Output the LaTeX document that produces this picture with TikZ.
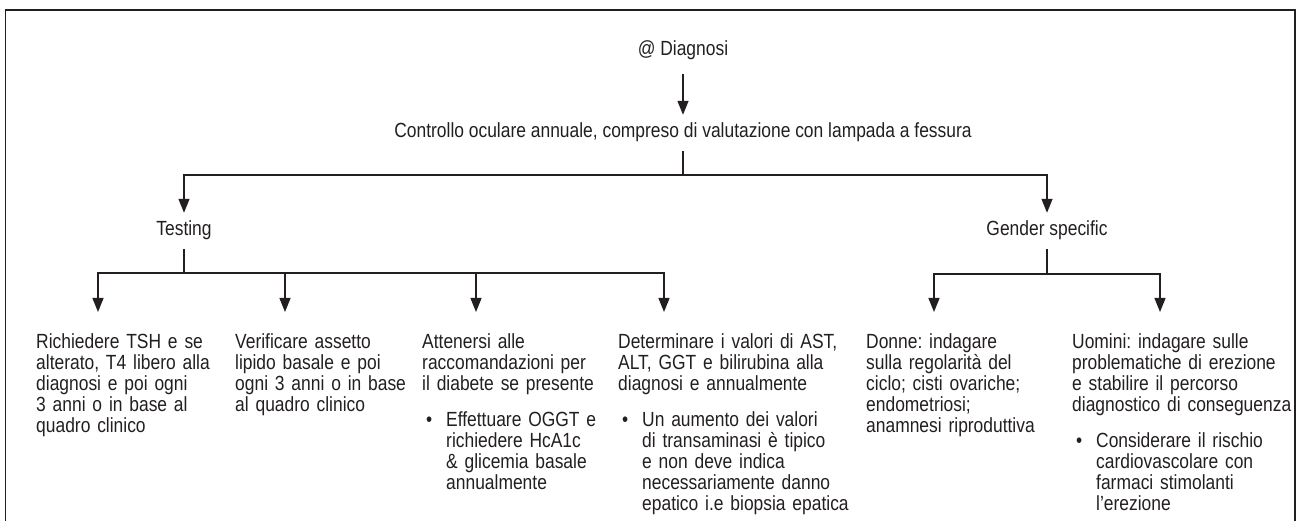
\documentclass[tikz,border=0pt]{standalone}
\usepackage{fontspec}
\setmainfont{Liberation Sans}[FakeStretch=0.85]
\usepackage{xcolor}
\usetikzlibrary{arrows.meta}

\definecolor{ink}{RGB}{35,31,32}

\tikzset{
  conn/.style={draw=ink, line width=1.3pt},
  arr/.style={conn, -{Triangle[width=11pt,length=14pt]}},
  head/.style={text=ink, font=\fontsize{20.5}{21}\selectfont, inner xsep=0pt, inner ysep=9pt, text height=14pt, text depth=4pt},
  leaf/.style={text=ink, font=\fontsize{20.5}{21}\selectfont, anchor=north west, inner sep=0pt, text width=232pt, align=left}
}

\newcommand{\bulletitem}[1]{\par\vspace{15pt}\noindent\makebox[24pt][l]{\hspace{4pt}\textbullet}\parbox[t]{215pt}{\raggedright #1}}

\frenchspacing

\begin{document}
\begin{tikzpicture}[x=1pt,y=-1pt]

\useasboundingbox (0,0) rectangle (1301,521) ;

%frame
\draw [conn] (5.5,521) -- (5.5,10) -- (1295,10) -- (1295,521) ;

%top nodes
\node [head] (diag) at (683,51) {@ Diagnosi} ;
\node [head] (ctrl) at (683,133) {Controllo oculare annuale, compreso di valutazione con lampada a fessura} ;
\draw [arr, shorten <=5pt] (diag) -- (ctrl) ;

%first split
\node [head] (test) at (184,231) {Testing} ;
\node [head] (gender) at (1047,231) {Gender specific} ;
\coordinate (csplit) at (683,175) ;
\draw [conn] (ctrl) -- (csplit) ;
\draw [arr] (csplit) -| (test) ;
\draw [arr] (csplit) -| (gender) ;

%testing leaves
\node [leaf] (tsh) at (36,333) {Richiedere TSH e se\\alterato, T4 libero alla\\diagnosi e poi ogni\\3 anni o in base al\\quadro clinico} ;
\node [leaf] (lipid) at (235,333) {Verificare assetto\\lipido basale e poi\\ogni 3 anni o in base\\al quadro clinico} ;
\node [leaf] (diab) at (422,333) {Attenersi alle\\raccomandazioni per\\il diabete se presente
  \bulletitem{Effettuare OGGT e\\richiedere HcA1c\\\& glicemia basale\\annualmente}} ;
\node [leaf] (liver) at (618,333) {Determinare i valori di AST,\\ALT, GGT e bilirubina alla\\diagnosi e annualmente
  \bulletitem{Un aumento dei valori\\di transaminasi è tipico\\e non deve indica\\necessariamente danno\\epatico i.e biopsia epatica}} ;

%testing arrows
\coordinate (tsplit) at (184,273) ;
\coordinate (t1) at (98,312) ;
\coordinate (t2) at (285,312) ;
\coordinate (t3) at (476,312) ;
\coordinate (t4) at (664,312) ;
\draw [conn] (test) -- (tsplit) ;
\foreach \t in {t1,t2,t3,t4}
  \draw [arr] (tsplit) -| (\t) ;

%gender leaves
\node [leaf] (donne) at (866,333) {Donne: indagare\\sulla regolarità del\\ciclo; cisti ovariche;\\endometriosi;\\anamnesi riproduttiva} ;
\node [leaf] (uomini) at (1072,333) {Uomini: indagare sulle\\problematiche di erezione\\e stabilire il percorso\\diagnostico di conseguenza
  \bulletitem{Considerare il rischio\\cardiovascolare con\\farmaci stimolanti\\l’erezione}} ;

%gender arrows
\coordinate (gsplit) at (1047,274) ;
\coordinate (g1) at (934,312) ;
\coordinate (g2) at (1160,312) ;
\draw [conn] (gender) -- (gsplit) ;
\draw [arr] (gsplit) -| (g1) ;
\draw [arr] (gsplit) -| (g2) ;

\end{tikzpicture}
\end{document}
